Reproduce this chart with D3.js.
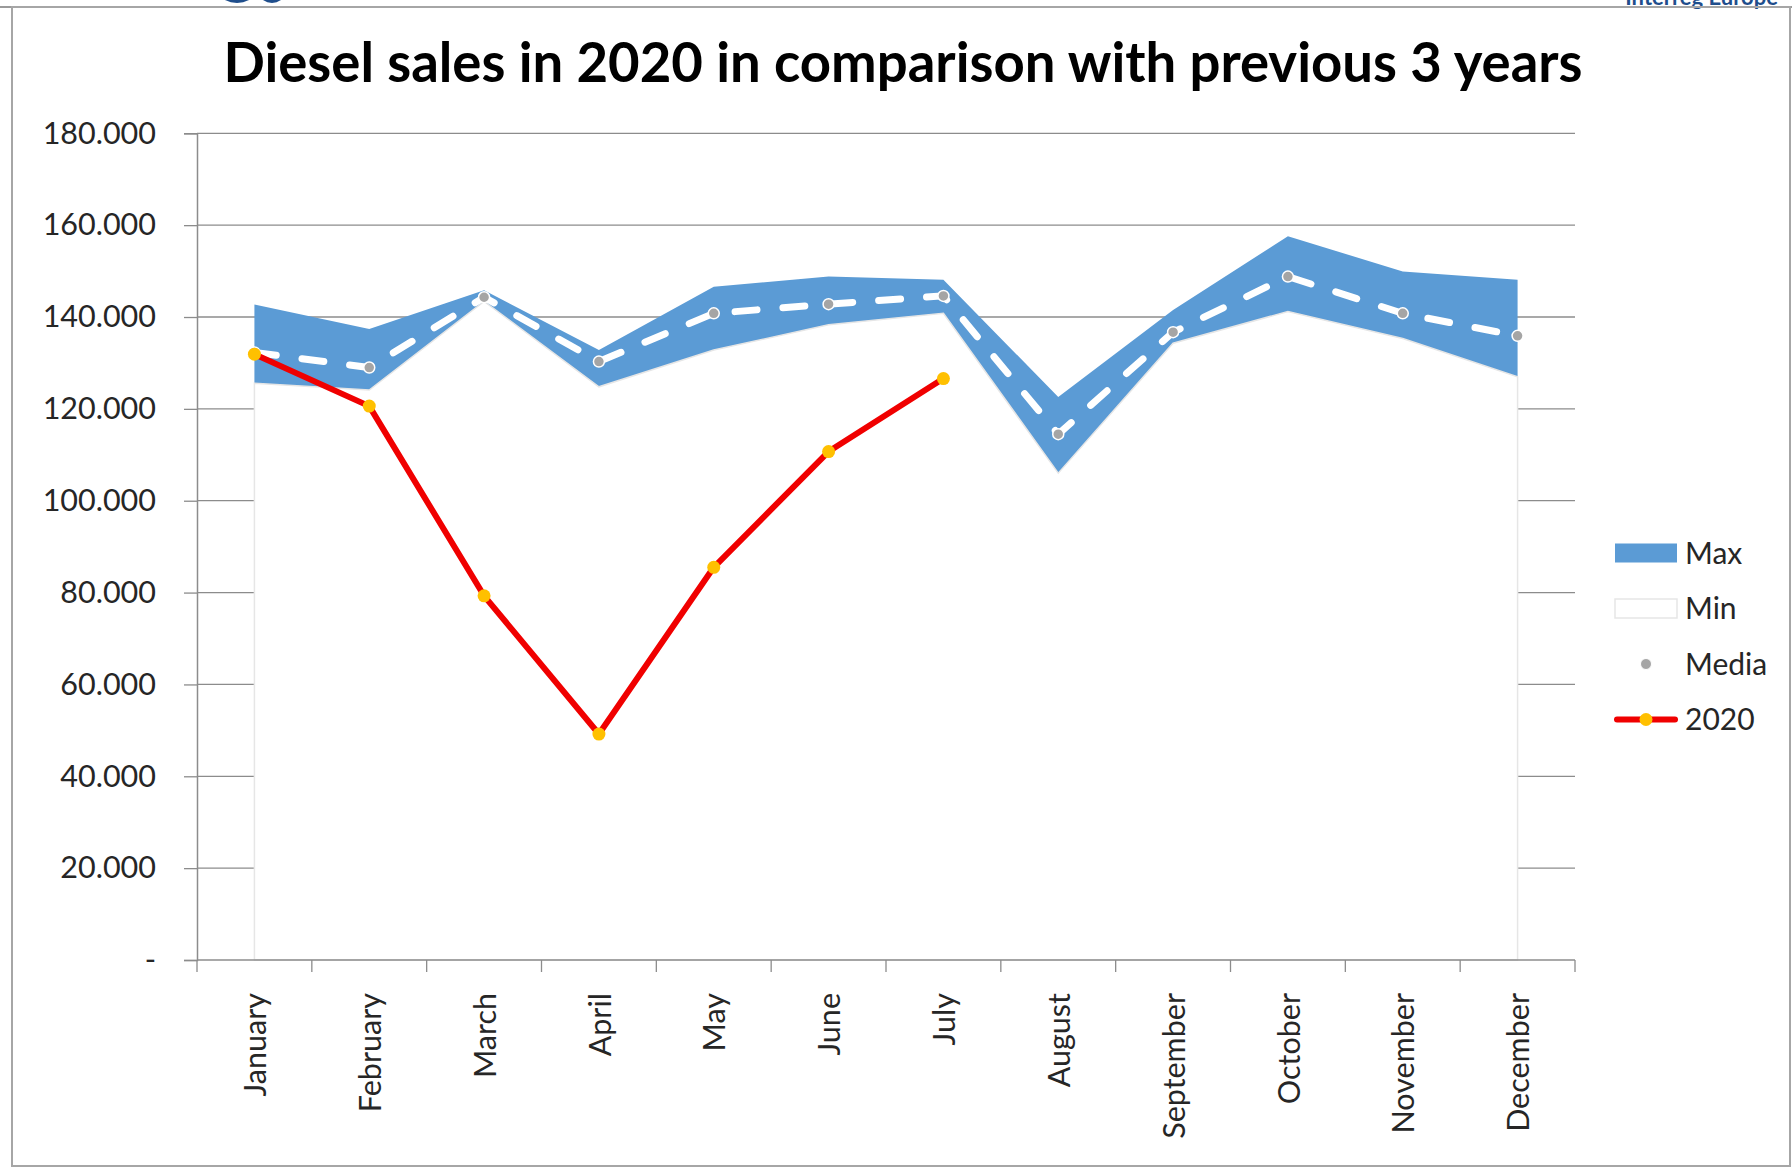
<!DOCTYPE html>
<html>
<head>
<meta charset="utf-8">
<script src="https://cdn.jsdelivr.net/npm/d3@7"></script>
<style>
  body { margin: 0; background: #fff; }
  svg { display: block; font-family: Lato, "Open Sans", sans-serif; }
</style>
</head>
<body>
<svg id="chart"></svg>
<script>
// data
var months = ["January", "February", "March", "April", "May", "June",
              "July", "August", "September", "October", "November", "December"];
var maxVals   = [142700, 137400, 145800, 132800, 146600, 148800, 148100, 122600, 141500, 157600, 149900, 148100];
var minVals   = [125600, 124100, 143400, 124800, 132800, 138300, 140800, 106000, 134300, 141200, 135300, 127000];
var mediaVals = [132300, 129000, 144300, 130300, 140800, 142800, 144600, 114500, 136700, 148800, 140800, 135900];
var sales2020 = [131900, 120600, 79300, 49200, 85500, 110700, 126600];
var yTicks = [0, 20000, 40000, 60000, 80000, 100000, 120000, 140000, 160000, 180000];
var legendItems = ["Max", "Min", "Media", "2020"];

var width = 1792, height = 1168;
var svg = d3.select("#chart").attr("width", width).attr("height", height);

// note: "top" is taken by window.top, so plot* names
var plotLeft = 197, plotRight = 1575, plotTop = 133.3, plotBottom = 960;

var x = d3.scaleBand().domain(months).range([plotLeft, plotRight]);
var y = d3.scaleLinear().domain([0, 180000]).range([plotBottom, plotTop]);
var cx = function(m) { return x(m) + x.bandwidth() / 2; };

// thousands with a dot, zero shown as a dash
var it = d3.formatLocale({ decimal: ",", thousands: ".", grouping: [3], currency: ["", ""] });
var fmt = function(d) { return d === 0 ? "-" : it.format(",")(d); };

// slide fragments at the top (cut off in the original too)
svg.append("text").attr("x", 1778).attr("y", 5).attr("text-anchor", "end")
   .style("font-size", "22px").style("font-weight", "bold").style("fill", "#1f4e8c")
   .text("Interreg Europe");
svg.append("ellipse").attr("cx", 237).attr("cy", -6).attr("rx", 16).attr("ry", 9).style("fill", "#1f4e8c");
svg.append("ellipse").attr("cx", 272).attr("cy", -6).attr("rx", 12).attr("ry", 9).style("fill", "#1f4e8c");

// frame
svg.append("line").attr("x1", 0).attr("x2", width).attr("y1", 7).attr("y2", 7)
   .style("stroke", "#9a9a9a").style("stroke-width", 2);
svg.append("rect").attr("x", 12).attr("y", 7).attr("width", 1778).attr("height", 1159)
   .style("fill", "none").style("stroke", "#a6a6a6").style("stroke-width", 2);

// title
svg.append("text").attr("x", 903).attr("y", 82).attr("text-anchor", "middle")
   .style("font-size", "54.5px").style("font-weight", "bold").style("fill", "#000")
   .text("Diesel sales in 2020 in comparison with previous 3 years");

// gridlines
svg.append("g").selectAll("line").data(yTicks.filter(function(d) { return d > 0; }))
   .enter().append("line")
   .attr("x1", plotLeft).attr("x2", plotRight)
   .attr("y1", function(d) { return y(d); }).attr("y2", function(d) { return y(d); })
   .style("stroke", "#8c8c8c").style("stroke-width", 1.3);

// Max area (blue) with the Min area (white) drawn over it
var area = function(vals) {
  return d3.area()
    .x(function(d, i) { return cx(months[i]); })
    .y0(y(0))
    .y1(function(d) { return y(d); })(vals);
};
svg.append("path").attr("d", area(maxVals)).style("fill", "#5b9bd5");
svg.append("path").attr("d", area(minVals))
   .style("fill", "#fff").style("stroke", "#e6e6e6").style("stroke-width", 1.5);

// y axis
var yAxis = svg.append("g").attr("transform", "translate(" + plotLeft + ",0)")
   .call(d3.axisLeft(y).tickValues(yTicks).tickFormat(fmt).tickSizeOuter(0).tickSize(13).tickPadding(28));
yAxis.select(".domain").style("stroke", "#8c8c8c").style("stroke-width", 1.5);
yAxis.selectAll(".tick line").style("stroke", "#8c8c8c").style("stroke-width", 1.3);
yAxis.selectAll(".tick text").style("font-size", "30.5px").style("fill", "#262626")
   .style("font-family", "Lato, sans-serif");

// x axis (ticks on category boundaries)
var bounds = months.map(function(m) { return x(m); }).concat([plotRight]);
svg.append("line").attr("x1", plotLeft).attr("x2", plotRight).attr("y1", plotBottom).attr("y2", plotBottom)
   .style("stroke", "#8c8c8c").style("stroke-width", 1.5);
svg.append("g").selectAll("line").data(bounds).enter().append("line")
   .attr("x1", function(d) { return d; }).attr("x2", function(d) { return d; })
   .attr("y1", plotBottom).attr("y2", plotBottom + 12)
   .style("stroke", "#8c8c8c").style("stroke-width", 1.3);
svg.append("g").selectAll("text").data(months).enter().append("text")
   .attr("transform", function(d) { return "translate(" + (cx(d) + 1) + ",993) rotate(-90)"; })
   .attr("text-anchor", "end").attr("dy", "0.35em")
   .style("font-size", "30.5px").style("fill", "#262626")
   .text(function(d) { return d; });

// Media: dashed white line with grey dots
var line = d3.line().x(function(d, i) { return cx(months[i]); }).y(function(d) { return y(d); });
svg.append("path").attr("d", line(mediaVals))
   .style("fill", "none").style("stroke", "#fff").style("stroke-width", 7)
   .style("stroke-linecap", "round").style("stroke-dasharray", "22,26");
svg.append("g").selectAll("circle").data(mediaVals).enter().append("circle")
   .attr("cx", function(d, i) { return cx(months[i]); }).attr("cy", function(d) { return y(d); })
   .attr("r", 5.5).style("fill", "#a5a5a5").style("stroke", "#fff").style("stroke-width", 1.5);

// 2020
svg.append("path").attr("d", line(sales2020))
   .style("fill", "none").style("stroke", "#f00000").style("stroke-width", 6)
   .style("stroke-linejoin", "round");
svg.append("g").selectAll("circle").data(sales2020).enter().append("circle")
   .attr("cx", function(d, i) { return cx(months[i]); }).attr("cy", function(d) { return y(d); })
   .attr("r", 6.5).style("fill", "#ffc000");

// legend
var lg = svg.append("g").selectAll("g").data(legendItems).enter().append("g")
   .attr("transform", function(d, i) { return "translate(1615," + (553 + i * 55.5) + ")"; });
lg.filter(function(d) { return d === "Max"; }).append("rect")
   .attr("x", 0).attr("y", -9.5).attr("width", 62).attr("height", 19).style("fill", "#5b9bd5");
lg.filter(function(d) { return d === "Min"; }).append("rect")
   .attr("x", 0).attr("y", -9.5).attr("width", 62).attr("height", 19)
   .style("fill", "#fff").style("stroke", "#e6e6e6").style("stroke-width", 1.5);
lg.filter(function(d) { return d === "Media"; }).append("circle")
   .attr("cx", 31).attr("r", 5.5).style("fill", "#a5a5a5").style("stroke", "#fff");
var l20 = lg.filter(function(d) { return d === "2020"; });
l20.append("line").attr("x1", 2).attr("x2", 60)
   .style("stroke", "#f00000").style("stroke-width", 6).style("stroke-linecap", "round");
l20.append("circle").attr("cx", 31).attr("r", 6.5).style("fill", "#ffc000");
lg.append("text").attr("x", 70).attr("dy", "0.35em")
   .style("font-size", "30px").style("fill", "#262626")
   .text(function(d) { return d; });
</script>
</body>
</html>
